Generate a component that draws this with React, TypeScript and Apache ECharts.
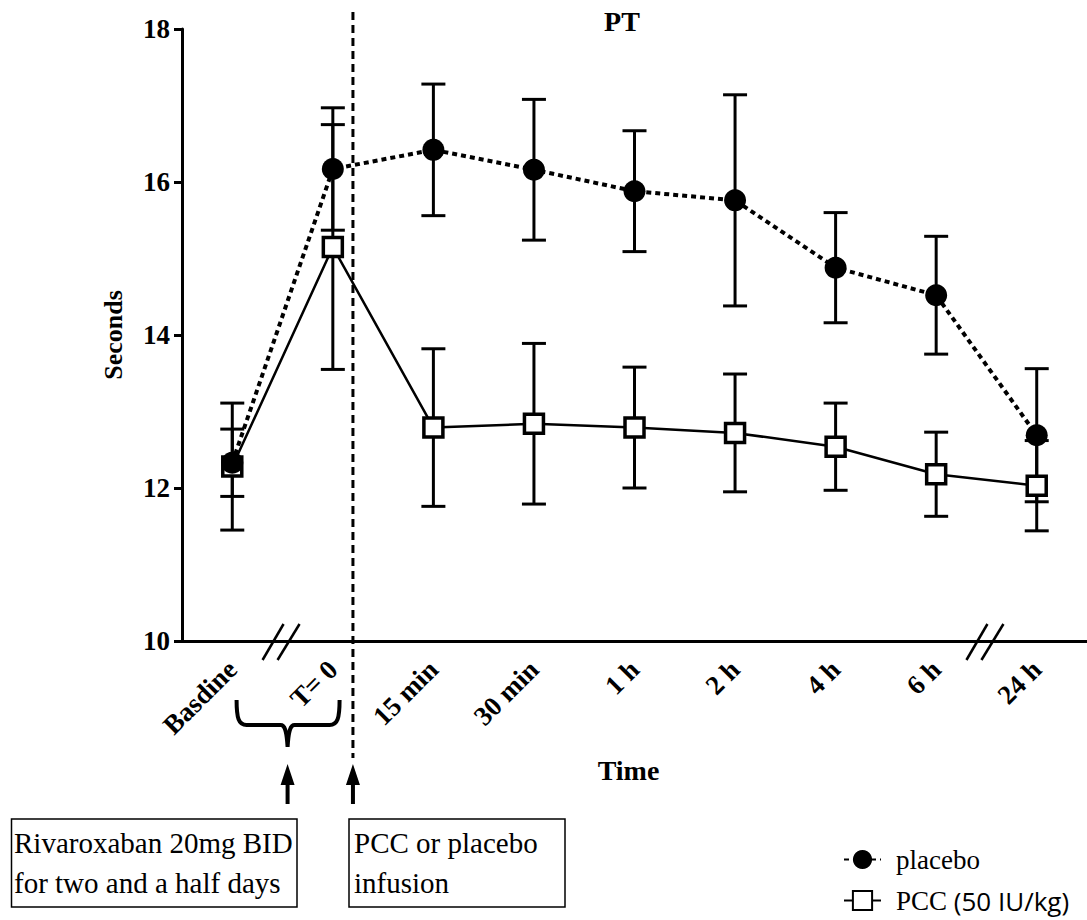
import React, { useEffect, useRef } from "react";
import * as echarts from "echarts";

const categories = ["Basdine", "T= 0", "15 min", "30 min", "1 h", "2 h", "4 h", "6 h", "24 h"];
const placeboMean = [12.33, 16.17, 16.42, 16.16, 15.88, 15.76, 14.88, 14.52, 12.69];
const placeboErr = [0.44, 0.8, 0.86, 0.92, 0.79, 1.38, 0.72, 0.77, 0.87];
const pccMean = [12.28, 15.15, 12.79, 12.84, 12.79, 12.72, 12.54, 12.18, 12.03];
const pccErr = [0.83, 1.6, 1.03, 1.05, 0.79, 0.77, 0.57, 0.55, 0.59];
const yMin = 10;
const yMax = 18;
const yStep = 2;

const breakPositions = [0.5, 7.5];
const infusionPosition = 1.2;
const bracePosition = 0.55;

const SERIF = '"Liberation Serif", "Times New Roman", serif';

echarts.graphic.registerShape(
  "brace",
  echarts.graphic.extendPath(
    "M0,0 C0,18 2,25 10,25 L44,25 C48,25 50,30 51,47 C52,30 54,25 58,25 L93,25 C101,25 103,18 103,0",
    {}
  )
);

function errorBarRender(params: any, api: any) {
  const x = api.value(0);
  const lo = api.coord([x, api.value(1)]);
  const hi = api.coord([x, api.value(2)]);
  const hw = 12;
  const style = { stroke: "#000", lineWidth: 3 };
  return {
    type: "group",
    children: [
      { type: "line", shape: { x1: lo[0], y1: lo[1], x2: hi[0], y2: hi[1] }, style },
      { type: "line", shape: { x1: lo[0] - hw, y1: lo[1], x2: lo[0] + hw, y2: lo[1] }, style },
      { type: "line", shape: { x1: hi[0] - hw, y1: hi[1], x2: hi[0] + hw, y2: hi[1] }, style },
    ],
  };
}

export default function App() {
  const ref = useRef<HTMLDivElement>(null);
  useEffect(() => {
    if (!ref.current) return;
    const chart = echarts.init(ref.current, null, { renderer: "svg" });
    const option: any = {
      animation: false,
      backgroundColor: "#fff",
      title: {
        text: "PT",
        left: 617,
        textAlign: "center",
        top: 2,
        textStyle: { fontFamily: SERIF, fontSize: 28, fontWeight: "bold", color: "#000" },
      },
      grid: { left: 182, top: 29, width: 918, height: 612 },
      legend: {
        orient: "vertical",
        left: 843,
        top: 846,
        height: 120,
        padding: 0,
        itemWidth: 37,
        itemHeight: 24,
        itemGap: 14,
        selectedMode: false,
        data: ["placebo", "PCC"],
        formatter: (n: string) => (n === "PCC" ? "{s|PCC }{c|(50 IU/kg)}" : "{s|placebo}"),
        textStyle: {
          color: "#000",
          rich: {
            s: { fontFamily: SERIF, fontSize: 27, color: "#000", padding: [0, 0, 0, 10], lineHeight: 30 },
            c: { fontFamily: '"Open Sans", sans-serif', fontSize: 26, color: "#000", lineHeight: 30 },
          },
        },
      },
      xAxis: {
        type: "category",
        data: categories,
        boundaryGap: true,
        name: "Time",
        nameLocation: "middle",
        nameGap: 115,
        nameTextStyle: {
          fontFamily: SERIF,
          fontSize: 28,
          fontWeight: "bold",
          color: "#000",
          padding: [0, 12, 0, 0],
        },
        axisLine: { lineStyle: { color: "#000", width: 3 } },
        axisTick: { alignWithLabel: true, length: 8, lineStyle: { color: "#000", width: 3 } },
        axisLabel: {
          interval: 0,
          rotate: 45,
          margin: 24,
          fontFamily: SERIF,
          fontSize: 27,
          fontWeight: "bold",
          color: "#000",
        },
        splitLine: { show: false },
      },
      yAxis: {
        type: "value",
        min: yMin,
        max: yMax,
        interval: yStep,
        name: "Seconds",
        nameLocation: "middle",
        nameRotate: 90,
        nameGap: 56,
        nameTextStyle: { fontFamily: SERIF, fontSize: 26, fontWeight: "bold", color: "#000" },
        axisLine: { show: true, lineStyle: { color: "#000", width: 3 } },
        axisTick: { show: true, length: 8, lineStyle: { color: "#000", width: 3 } },
        axisLabel: { margin: 12, fontFamily: SERIF, fontSize: 27, fontWeight: "bold", color: "#000" },
        splitLine: { show: false },
      },
      series: [
        {
          name: "pccErr",
          type: "custom",
          renderItem: errorBarRender,
          encode: { x: 0, y: [1, 2] },
          data: pccMean.map((m, i) => [i, m - pccErr[i], m + pccErr[i]]),
          z: 2,
        },
        {
          name: "placeboErr",
          type: "custom",
          renderItem: errorBarRender,
          encode: { x: 0, y: [1, 2] },
          data: placeboMean.map((m, i) => [i, m - placeboErr[i], m + placeboErr[i]]),
          z: 2,
        },
        {
          name: "PCC",
          type: "line",
          data: pccMean,
          symbol: "rect",
          symbolSize: 19,
          itemStyle: { color: "#fff", borderColor: "#000", borderWidth: 3.5 },
          lineStyle: { color: "#000", width: 2.5, type: "solid" },
          z: 3,
        },
        {
          name: "placebo",
          type: "line",
          data: placeboMean,
          symbol: "circle",
          symbolSize: 22,
          itemStyle: { color: "#000", borderColor: "#000", borderWidth: 0 },
          lineStyle: { color: "#000", width: 4, type: [5, 4] },
          z: 4,
        },
      ],
    };
    chart.setOption(option);

    const p0 = chart.convertToPixel({ xAxisIndex: 0, yAxisIndex: 0 }, [0, yMin]) as number[];
    const p1 = chart.convertToPixel({ xAxisIndex: 0, yAxisIndex: 0 }, [1, yMin]) as number[];
    const band = p1[0] - p0[0];
    const px = (i: number) => p0[0] + band * i;
    const axisY = p0[1];

    const graphics: any[] = [];
    const lineStyle = { stroke: "#000", lineWidth: 2.5 };
    breakPositions.forEach((b) => {
      const cx = px(b);
      graphics.push(
        { type: "line", shape: { x1: cx - 20, y1: axisY + 19, x2: cx + 1, y2: axisY - 17 }, style: lineStyle, z: 10 },
        { type: "line", shape: { x1: cx - 5, y1: axisY + 19, x2: cx + 17, y2: axisY - 17 }, style: lineStyle, z: 10 }
      );
    });
    const dx = px(infusionPosition);
    graphics.push({
      type: "line",
      shape: { x1: dx, y1: 12, x2: dx, y2: 758 },
      style: { stroke: "#000", lineWidth: 3, lineDash: [8, 5] },
      z: 10,
    });
    const bx = px(bracePosition);
    graphics.push({
      type: "brace",
      x: bx - 51,
      y: 700,
      style: { stroke: "#000", lineWidth: 4, fill: "none" },
      z: 10,
    });
    [bx, dx].forEach((ax) => {
      graphics.push(
        { type: "line", shape: { x1: ax, y1: 780, x2: ax, y2: 804 }, style: { stroke: "#000", lineWidth: 4 }, z: 10 },
        {
          type: "polygon",
          shape: { points: [[ax, 764], [ax - 7, 785], [ax + 7, 785]] },
          style: { fill: "#000" },
          z: 10,
        }
      );
    });
    const boxStyle = { stroke: "#000", lineWidth: 1.5, fill: "none" };
    const textStyle = (t: string, x: number, y: number) => ({
      type: "text",
      x,
      y,
      style: { text: t, fill: "#000", font: `29px ${SERIF}`, verticalAlign: "middle", align: "left" },
      z: 10,
    });
    graphics.push(
      { type: "rect", shape: { x: 11.5, y: 819, width: 285.5, height: 88 }, style: boxStyle, z: 10 },
      textStyle("Rivaroxaban 20mg BID", 14, 843),
      textStyle("for two and a half days", 14, 883),
      { type: "rect", shape: { x: 349, y: 819, width: 216, height: 88 }, style: boxStyle, z: 10 },
      textStyle("PCC or placebo", 354, 843),
      textStyle("infusion", 354, 883)
    );
    chart.setOption({ graphic: graphics });

    return () => chart.dispose();
  }, []);
  return (
    <div
      ref={ref}
      style={{ position: "absolute", left: 0, top: 0, width: 1087, height: 920, background: "#fff" }}
    />
  );
}
